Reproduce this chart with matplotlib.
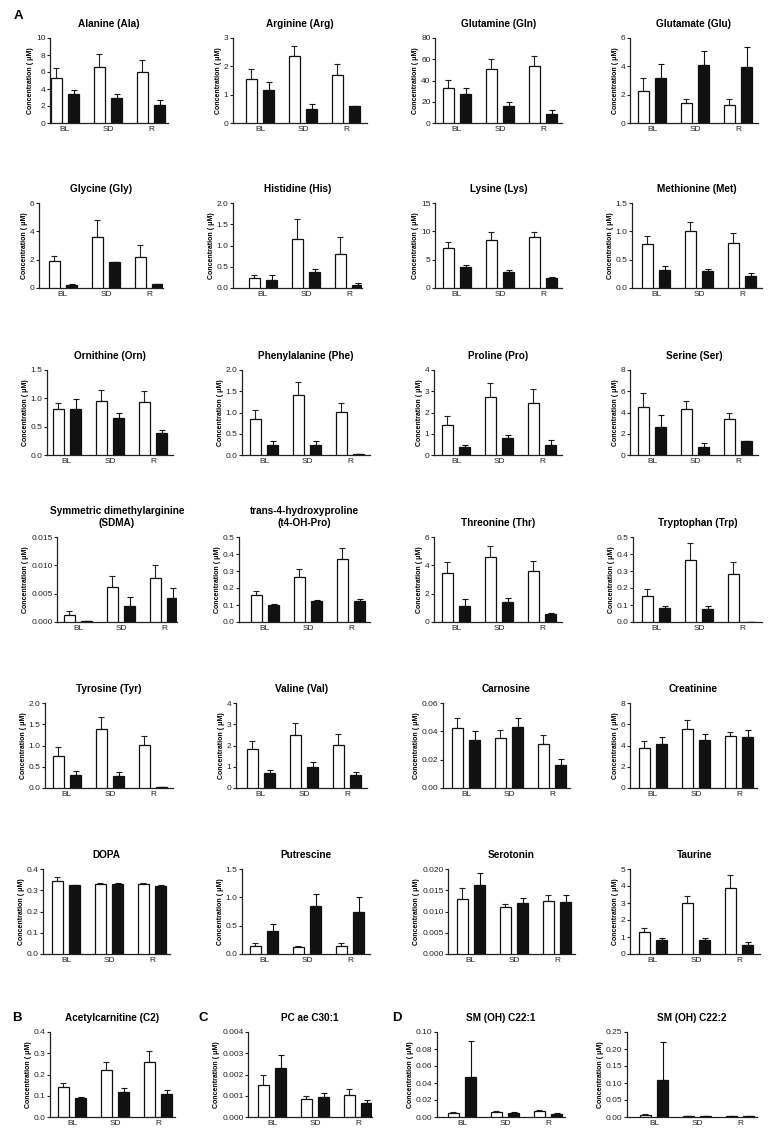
import numpy as np
import matplotlib
matplotlib.use("Agg")
from matplotlib import pyplot as plt

plt.rcParams.update({
    "font.family": ["Liberation Sans", "DejaVu Sans"],
    "font.size": 6,
    "axes.linewidth": 0.9,
    "axes.edgecolor": "#222222",
    "xtick.color": "#222222",
    "ytick.color": "#222222",
})

GROUPS = ["BL", "SD", "R"]

TITLES = [
    "Alanine (Ala)", "Arginine (Arg)", "Glutamine (Gln)", "Glutamate (Glu)",
    "Glycine (Gly)", "Histidine (His)", "Lysine (Lys)", "Methionine (Met)",
    "Ornithine (Orn)", "Phenylalanine (Phe)", "Proline (Pro)", "Serine (Ser)",
    "Symmetric dimethylarginine\n(SDMA)", "trans-4-hydroxyproline\n(t4-OH-Pro)",
    "Threonine (Thr)", "Tryptophan (Trp)",
    "Tyrosine (Tyr)", "Valine (Val)", "Carnosine", "Creatinine",
    "DOPA", "Putrescine", "Serotonin", "Taurine",
    "Acetylcarnitine (C2)", "PC ae C30:1", "SM (OH) C22:1", "SM (OH) C22:2",
]

Y_MAX = [10, 3, 80, 6,
         6, 2.0, 15, 1.5,
         1.5, 2.0, 4, 8,
         0.015, 0.5, 6, 0.5,
         2.0, 4, 0.06, 8,
         0.4, 1.5, 0.020, 5,
         0.4, 0.004, 0.10, 0.25]
Y_STEP = [2, 1, 20, 2,
          2, 0.5, 5, 0.5,
          0.5, 0.5, 1, 2,
          0.005, 0.1, 2, 0.1,
          0.5, 1, 0.02, 2,
          0.1, 0.5, 0.005, 1,
          0.1, 0.001, 0.02, 0.05]

# open bars (mean and upper SEM) for BL, SD, R
WHITE = [
    [5.3, 6.6, 6.0], [1.56, 2.35, 1.69], [33.3, 51.1, 53.3], [2.26, 1.40, 1.26],
    [1.88, 3.58, 2.16], [0.24, 1.16, 0.80], [7.06, 8.53, 8.94], [0.77, 1.00, 0.79],
    [0.81, 0.96, 0.93], [0.85, 1.42, 1.01], [1.43, 2.73, 2.46], [4.48, 4.29, 3.35],
    [0.0013, 0.0061, 0.0078], [0.161, 0.265, 0.369], [3.43, 4.60, 3.62], [0.153, 0.365, 0.280],
    [0.76, 1.40, 1.02], [1.83, 2.49, 2.02], [0.0425, 0.0352, 0.031], [3.78, 5.51, 4.85],
    [0.345, 0.329, 0.331], [0.135, 0.12, 0.135], [0.0130, 0.0110, 0.0125], [1.30, 2.98, 3.91],
    [0.14, 0.22, 0.26], [0.0015, 0.00085, 0.00105], [0.005, 0.006, 0.007], [0.006, 0.003, 0.002],
]
WHITE_ERR = [
    [1.2, 1.5, 1.4], [0.34, 0.38, 0.40], [7.3, 9.2, 10.2], [0.95, 0.31, 0.41],
    [0.40, 1.24, 0.85], [0.06, 0.46, 0.40], [1.12, 1.29, 0.94], [0.14, 0.16, 0.18],
    [0.10, 0.19, 0.20], [0.20, 0.30, 0.21], [0.39, 0.67, 0.66], [1.38, 0.76, 0.60],
    [0.0006, 0.0021, 0.0023], [0.023, 0.047, 0.066], [0.82, 0.80, 0.70], [0.041, 0.100, 0.075],
    [0.21, 0.28, 0.20], [0.38, 0.56, 0.50], [0.0069, 0.0054, 0.0066], [0.60, 0.85, 0.44],
    [0.016, 0.004, 0.003], [0.055, 0.02, 0.055], [0.0025, 0.0007, 0.0013], [0.24, 0.42, 0.74],
    [0.02, 0.04, 0.05], [0.0005, 0.00015, 0.00025], [0.001, 0.0005, 0.001], [0.002, 0.001, 0.001],
]
# filled bars
BLACK = [
    [3.4, 2.9, 2.1], [1.15, 0.51, 0.59], [27.6, 15.6, 8.6], [3.17, 4.10, 3.98],
    [0.24, 1.84, 0.31], [0.20, 0.37, 0.07], [3.71, 2.76, 1.71], [0.32, 0.30, 0.22],
    [0.82, 0.66, 0.38], [0.235, 0.235, 0.02], [0.38, 0.82, 0.45], [2.60, 0.75, 1.35],
    [0.0002, 0.0028, 0.0043], [0.098, 0.122, 0.122], [1.14, 1.40, 0.54], [0.084, 0.075, 0.0],
    [0.30, 0.29, 0.02], [0.71, 0.98, 0.63], [0.034, 0.043, 0.0163], [4.16, 4.54, 4.79],
    [0.323, 0.329, 0.322], [0.40, 0.84, 0.74], [0.0163, 0.0121, 0.0122], [0.84, 0.80, 0.54],
    [0.09, 0.12, 0.11], [0.0023, 0.00095, 0.00065], [0.047, 0.005, 0.004], [0.11, 0.003, 0.002],
]
BLACK_ERR = [
    [0.5, 0.5, 0.6], [0.31, 0.15, 0.0], [5.1, 3.8, 4.1], [1.0, 0.97, 1.38],
    [0.03, 0.0, 0.0], [0.11, 0.08, 0.05], [0.41, 0.48, 0.17], [0.06, 0.035, 0.045],
    [0.16, 0.08, 0.07], [0.085, 0.105, 0.0], [0.09, 0.11, 0.24], [1.16, 0.35, 0.0],
    [0.0, 0.0016, 0.0017], [0.008, 0.005, 0.013], [0.45, 0.26, 0.11], [0.008, 0.019, 0.0],
    [0.10, 0.08, 0.0], [0.16, 0.23, 0.12], [0.006, 0.0064, 0.004], [0.66, 0.56, 0.69],
    [0.003, 0.004, 0.003], [0.13, 0.22, 0.26], [0.0027, 0.0011, 0.0017], [0.13, 0.17, 0.14],
    [0.005, 0.015, 0.015], [0.0006, 0.0002, 0.00015], [0.043, 0.0005, 0.001], [0.11, 0.001, 0.001],
]

# layout in pixels (figure is 773 x 1134)
FIG_W, FIG_H = 773, 1134
ROW_TOP = [38, 203, 370, 537, 703, 869, 1032]
AX_H = 85
AX_LEFT = [50, 233, 435, 630,
           39, 233, 435, 632,
           47, 242, 434, 630,
           57, 239, 434, 633,
           45, 236, 443, 630,
           43, 242, 448, 630,
           50, 248, 437, 627]
AX_RIGHT = [168, 367, 562, 758,
            163, 362, 562, 762,
            173, 370, 562, 758,
            177, 370, 562, 762,
            173, 367, 570, 757,
            170, 370, 575, 760,
            175, 372, 565, 757]
BL_CENTER = [65, 260, 457, 652,
             63, 263, 457, 656,
             67, 264, 456, 652,
             78, 265, 456, 656,
             67, 261, 466, 653,
             66, 264, 471, 653,
             72, 272, 462, 654]
GROUP_PX = 43
BAR_W = 0.26
OFFSET = 0.2


def draw_panel(ax, i):
    x = np.arange(len(GROUPS))
    zeros = [0, 0, 0]
    ax.bar(x - OFFSET, WHITE[i], BAR_W, color="white", edgecolor="#111111",
           linewidth=0.9, zorder=3)
    ax.bar(x + OFFSET, BLACK[i], BAR_W, color="#111111", edgecolor="#111111",
           linewidth=0.9, zorder=3)
    ax.errorbar(x - OFFSET, WHITE[i], yerr=[zeros, WHITE_ERR[i]], fmt="none",
                ecolor="#222222", elinewidth=0.8, capsize=2.5, capthick=0.8, zorder=2)
    ax.errorbar(x + OFFSET, BLACK[i], yerr=[zeros, BLACK_ERR[i]], fmt="none",
                ecolor="#111111", elinewidth=0.8, capsize=2.5, capthick=0.8, zorder=2)

    step = Y_STEP[i]
    dec = max(0, int(-np.floor(np.log10(step) + 1e-9)))
    ticks = np.arange(0, Y_MAX[i] + step / 2, step)
    ax.set_ylim(0, Y_MAX[i])
    ax.set_yticks(ticks)
    ax.set_yticklabels([f"{t:.{dec}f}" for t in ticks])

    c0 = BL_CENTER[i]
    ax.set_xlim((AX_LEFT[i] - c0) / GROUP_PX, (AX_RIGHT[i] - c0) / GROUP_PX)
    ax.set_xticks(x)
    ax.set_xticklabels(GROUPS)

    for side in ["top", "right"]:
        ax.spines[side].set_visible(False)
    ax.tick_params(axis="x", length=0, pad=2, labelsize=6)
    ax.tick_params(axis="y", length=2.2, width=0.8, pad=1, labelsize=6)
    ax.set_ylabel("Concentration ( \u03bcM)", fontsize=5, fontweight="bold", labelpad=1.5)
    ax.set_title(TITLES[i], fontsize=7.2, fontweight="bold", pad=8, linespacing=1.2)


fig = plt.figure(figsize=(FIG_W / 100, FIG_H / 100), dpi=100)
for i in range(len(TITLES)):
    row = i // 4
    left = AX_LEFT[i] / FIG_W
    width = (AX_RIGHT[i] - AX_LEFT[i]) / FIG_W
    bottom = 1 - (ROW_TOP[row] + AX_H) / FIG_H
    ax = fig.add_axes([left, bottom, width, AX_H / FIG_H])
    draw_panel(ax, i)

for letter, px, py in [("A", 14, 10), ("B", 12, 1012), ("C", 198, 1012), ("D", 392, 1012)]:
    fig.text(px / FIG_W, 1 - py / FIG_H, letter, fontsize=9.5, fontweight="bold",
             ha="left", va="top")

fig.savefig("out.png", dpi=100)
